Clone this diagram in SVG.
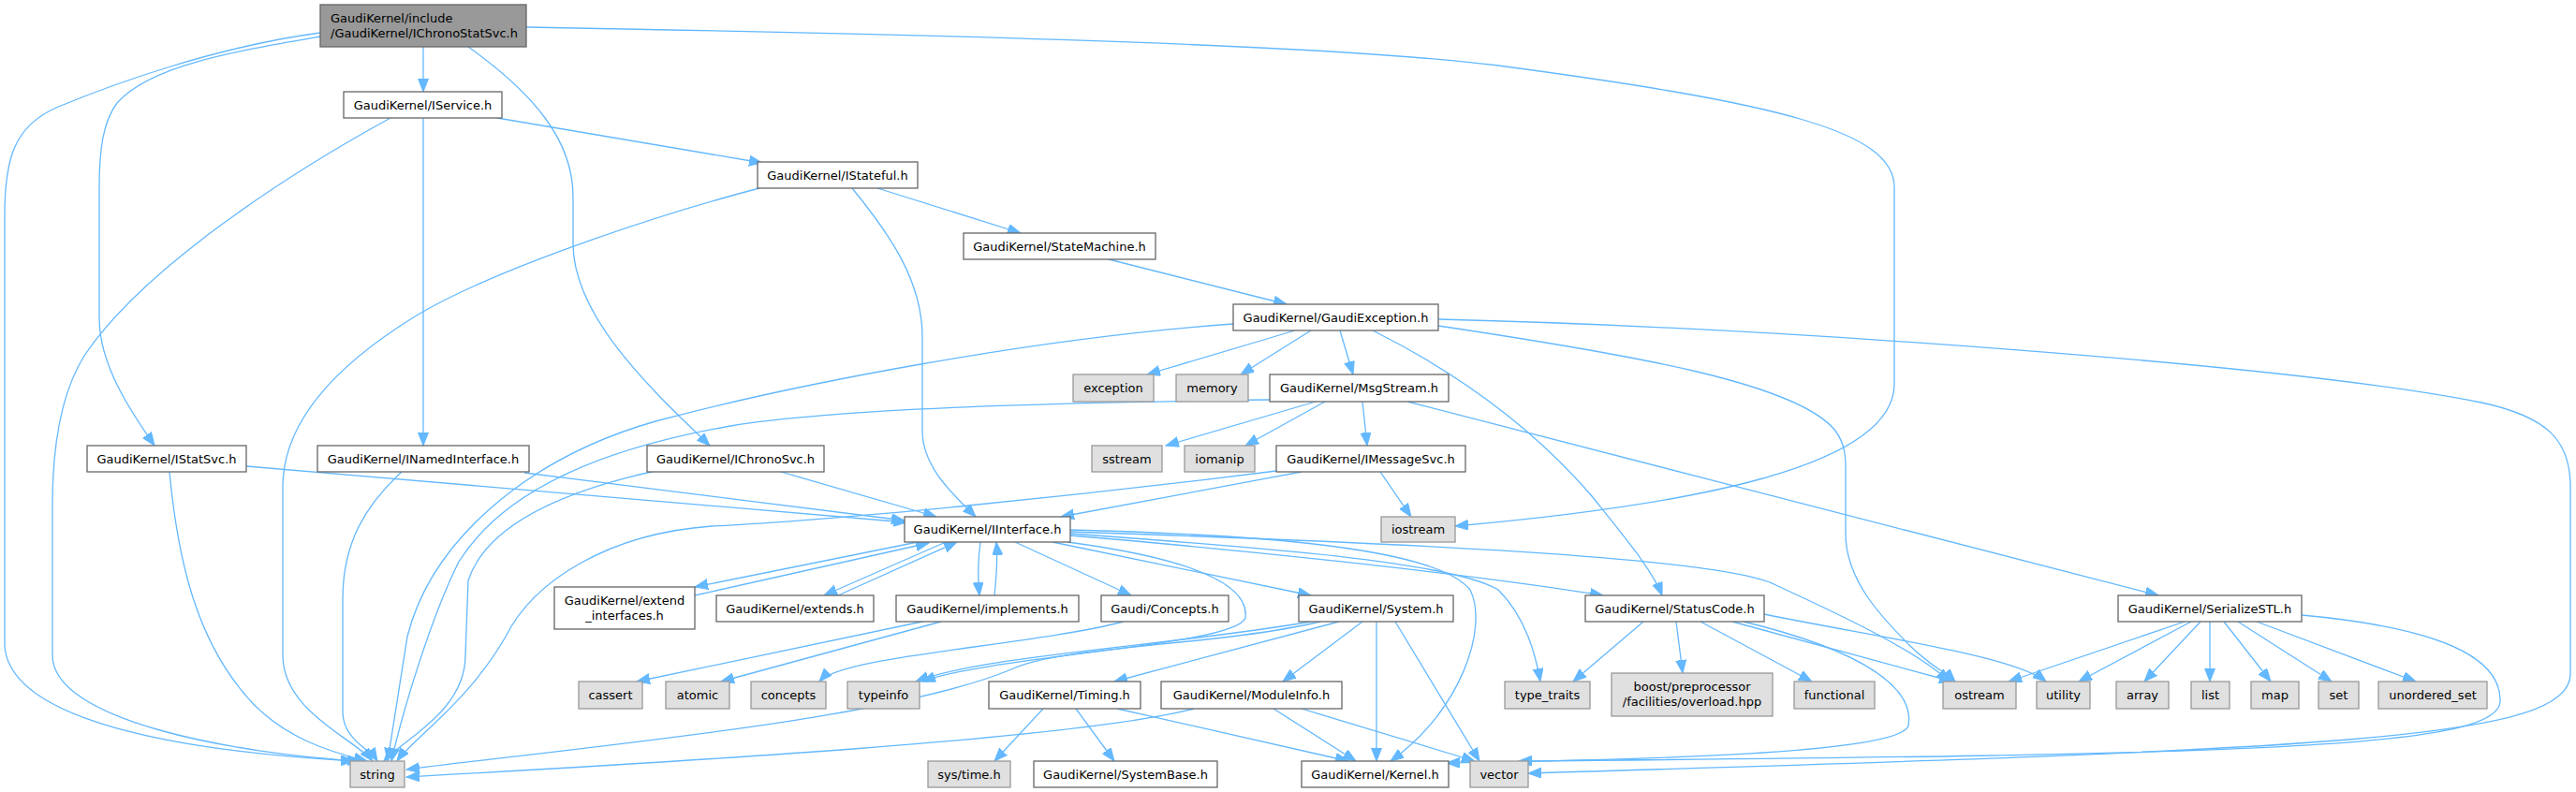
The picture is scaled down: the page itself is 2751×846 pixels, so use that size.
<svg xmlns="http://www.w3.org/2000/svg" width="2751" height="846" viewBox="0 0 2751 846">
<defs>
<marker id="a" markerUnits="userSpaceOnUse" markerWidth="15" markerHeight="12" refX="14" refY="5.5" orient="auto"><path d="M0,0 L14,5.5 L0,11 z" fill="#63b8ff" stroke="#63b8ff" stroke-width="1"/></marker>
<style>
.n rect{fill:#fff;stroke:#666;stroke-width:1.3}
.g rect{fill:#e0e0e0;stroke:#999;stroke-width:1.3}
.r rect{fill:#999;stroke:#666;stroke-width:1.3}
text{font-family:"DejaVu Sans",sans-serif;font-size:13px;text-anchor:middle;fill:#000}
.r text{text-anchor:start}
#edges path{fill:none;stroke:#63b8ff;stroke-width:1.3;marker-end:url(#a)}
</style>
</defs>
<rect width="2751" height="846" fill="#fff"/>
<g id="edges">
<path d="M452,50 L452,98"/>
<path d="M342,35 C230,50 120,90 60,115 C15,135 5,170 5,230 L5,690 C10,760 150,800 378,813"/>
<path d="M342,39 C250,55 160,70 125,110 C110,130 106,160 106,200 L106,340 C106,390 140,440 165,476"/>
<path d="M500,50 C570,100 612,150 612,210 L612,260 C612,340 700,420 758,476"/>
<path d="M562,29 C900,35 1400,45 1600,70 C1900,110 2023,140 2023,200 L2023,410 C2023,500 1800,540 1554,562"/>
<path d="M531,126 L814,174"/>
<path d="M452,126 L452,476"/>
<path d="M417,126 C300,190 150,290 90,380 C65,420 56,480 56,540 L56,700 C56,770 250,805 385,813"/>
<path d="M937,201 L1090,249"/>
<path d="M910,201 C950,250 985,300 985,360 L985,460 C985,500 1020,530 1042,552"/>
<path d="M811,201 C700,230 520,290 440,340 C360,390 302,450 302,520 L302,700 C302,760 380,790 398,813"/>
<path d="M1184,277 L1374,325"/>
<path d="M1383,353 L1225,400"/>
<path d="M1400,353 L1325,400"/>
<path d="M1431,353 L1445,400"/>
<path d="M1317,346 C1100,362 850,410 700,450 C560,490 460,580 435,680 L414,813"/>
<path d="M1466,353 C1560,400 1640,460 1700,530 C1740,580 1765,610 1775,636"/>
<path d="M1536,348 C1750,380 1920,410 1960,460 C1971,475 1971,490 1971,500 L1971,570 C1971,620 2010,660 2040,690 C2060,710 2080,720 2088,728"/>
<path d="M1536,341 C1900,350 2450,390 2650,430 C2720,445 2745,470 2745,520 L2745,720 C2745,790 2500,800 1632,826"/>
<path d="M1405,429 L1245,476"/>
<path d="M1415,429 L1330,476"/>
<path d="M1455,429 L1460,476"/>
<path d="M1503,429 L2305,636"/>
<path d="M1356,427 C1150,430 900,435 780,455 C650,478 540,520 490,600 C460,660 430,760 418,813"/>
<path d="M1390,504 L1133,552"/>
<path d="M1474,504 L1507,552"/>
<path d="M1363,503 C1150,530 900,555 760,562 C650,570 570,620 540,680 C500,750 440,790 424,813"/>
<path d="M263,498 L968,558"/>
<path d="M181,504 C190,600 210,680 260,740 C300,790 360,805 392,813"/>
<path d="M560,505 L966,556"/>
<path d="M429,504 C390,540 366,580 366,640 L366,760 C366,790 395,800 403,813"/>
<path d="M834,504 L1000,552"/>
<path d="M700,503 C600,525 520,560 500,620 L497,700 C497,760 430,790 410,813"/>
<path d="M980,579 L742,627"/>
<path d="M742,636 L992,580"/>
<path d="M1010,579 L880,636"/>
<path d="M895,636 L1022,579"/>
<path d="M1047,579 C1044,600 1044,615 1046,636"/>
<path d="M1062,636 C1064,615 1066,600 1064,579"/>
<path d="M1084,579 L1208,636"/>
<path d="M1124,579 L1400,636"/>
<path d="M1143,572 C1300,585 1550,610 1712,636"/>
<path d="M1143,570 C1350,585 1550,600 1600,630 C1630,660 1640,700 1645,728"/>
<path d="M1143,566 C1300,570 1530,580 1570,630 C1590,670 1560,760 1485,813"/>
<path d="M1143,568 C1500,580 1820,595 1890,622 C1950,650 2040,690 2082,728"/>
<path d="M1140,579 C1260,595 1335,620 1330,660 C1320,690 1060,700 985,728"/>
<path d="M1400,664 C1250,690 1050,700 978,728"/>
<path d="M1410,664 C1300,690 1130,690 1080,715 C950,770 600,800 434,822"/>
<path d="M1430,664 L1190,728"/>
<path d="M1455,664 L1370,728"/>
<path d="M1470,664 L1470,813"/>
<path d="M1490,664 L1580,813"/>
<path d="M1114,757 L1062,813"/>
<path d="M1149,757 L1190,813"/>
<path d="M1193,757 L1440,813"/>
<path d="M1275,757 C1150,790 700,815 434,830"/>
<path d="M1360,757 L1448,813"/>
<path d="M1390,757 L1575,813"/>
<path d="M985,664 L680,728"/>
<path d="M1005,664 L770,728"/>
<path d="M1200,664 C1100,690 900,700 875,728"/>
<path d="M1755,664 L1680,728"/>
<path d="M1790,664 L1797,719"/>
<path d="M1816,664 L1935,728"/>
<path d="M1850,664 L2085,728"/>
<path d="M1884,656 C2000,680 2150,700 2185,728"/>
<path d="M1862,664 C1990,695 2045,735 2038,775 C2030,808 1700,812 1545,815"/>
<path d="M2333,664 L2145,728"/>
<path d="M2340,664 L2220,728"/>
<path d="M2350,664 L2290,728"/>
<path d="M2360,664 L2360,728"/>
<path d="M2375,664 L2425,728"/>
<path d="M2390,664 L2490,728"/>
<path d="M2410,664 L2580,728"/>
<path d="M2458,657 C2600,670 2672,700 2670,750 C2665,800 2400,806 1622,813"/>
</g>
<g id="root" class="r"><rect x="342" y="5" width="220" height="45"/><text x="353" y="23.5">GaudiKernel/include</text><text x="353" y="39.5">/GaudiKernel/IChronoStatSvc.h</text></g>
<g id="IService" class="n"><rect x="367" y="98" width="169" height="28"/><text x="451.5" y="116.5">GaudiKernel/IService.h</text></g>
<g id="IStateful" class="n"><rect x="809" y="173" width="171" height="28"/><text x="894.5" y="191.5">GaudiKernel/IStateful.h</text></g>
<g id="StateMachine" class="n"><rect x="1029" y="249" width="205" height="28"/><text x="1131.5" y="267.5">GaudiKernel/StateMachine.h</text></g>
<g id="GaudiException" class="n"><rect x="1317" y="325" width="219" height="28"/><text x="1426.5" y="343.5">GaudiKernel/GaudiException.h</text></g>
<g id="exception" class="g"><rect x="1146" y="400" width="86" height="29"/><text x="1189" y="419">exception</text></g>
<g id="memory" class="g"><rect x="1256" y="400" width="77" height="29"/><text x="1294.5" y="419">memory</text></g>
<g id="MsgStream" class="n"><rect x="1356" y="400" width="191" height="29"/><text x="1451.5" y="419">GaudiKernel/MsgStream.h</text></g>
<g id="IStatSvc" class="n"><rect x="93" y="476" width="170" height="28"/><text x="178" y="494.5">GaudiKernel/IStatSvc.h</text></g>
<g id="INamedInterface" class="n"><rect x="339" y="476" width="226" height="28"/><text x="452" y="494.5">GaudiKernel/INamedInterface.h</text></g>
<g id="IChronoSvc" class="n"><rect x="691" y="476" width="189" height="28"/><text x="785.5" y="494.5">GaudiKernel/IChronoSvc.h</text></g>
<g id="sstream" class="g"><rect x="1166" y="476" width="75" height="28"/><text x="1203.5" y="494.5">sstream</text></g>
<g id="iomanip" class="g"><rect x="1265" y="476" width="75" height="28"/><text x="1302.5" y="494.5">iomanip</text></g>
<g id="IMessageSvc" class="n"><rect x="1363" y="476" width="202" height="28"/><text x="1464" y="494.5">GaudiKernel/IMessageSvc.h</text></g>
<g id="IInterface" class="n"><rect x="966" y="552" width="177" height="27"/><text x="1054.5" y="570">GaudiKernel/IInterface.h</text></g>
<g id="iostream" class="g"><rect x="1475" y="552" width="79" height="27"/><text x="1514.5" y="570">iostream</text></g>
<g id="extend_interfaces" class="n"><rect x="592" y="627" width="150" height="45"/><text x="667" y="645.5">GaudiKernel/extend</text><text x="667" y="661.5">_interfaces.h</text></g>
<g id="extends" class="n"><rect x="765" y="636" width="168" height="28"/><text x="849" y="654.5">GaudiKernel/extends.h</text></g>
<g id="implements" class="n"><rect x="957" y="636" width="195" height="28"/><text x="1054.5" y="654.5">GaudiKernel/implements.h</text></g>
<g id="Concepts" class="n"><rect x="1176" y="636" width="136" height="28"/><text x="1244" y="654.5">Gaudi/Concepts.h</text></g>
<g id="System" class="n"><rect x="1387" y="636" width="165" height="28"/><text x="1469.5" y="654.5">GaudiKernel/System.h</text></g>
<g id="StatusCode" class="n"><rect x="1693" y="636" width="191" height="28"/><text x="1788.5" y="654.5">GaudiKernel/StatusCode.h</text></g>
<g id="SerializeSTL" class="n"><rect x="2262" y="636" width="196" height="28"/><text x="2360" y="654.5">GaudiKernel/SerializeSTL.h</text></g>
<g id="cassert" class="g"><rect x="618" y="728" width="68" height="29"/><text x="652" y="747">cassert</text></g>
<g id="atomic" class="g"><rect x="711" y="728" width="68" height="29"/><text x="745" y="747">atomic</text></g>
<g id="concepts" class="g"><rect x="802" y="728" width="80" height="29"/><text x="842" y="747">concepts</text></g>
<g id="typeinfo" class="g"><rect x="905" y="728" width="77" height="29"/><text x="943.5" y="747">typeinfo</text></g>
<g id="Timing" class="n"><rect x="1056" y="728" width="162" height="29"/><text x="1137" y="747">GaudiKernel/Timing.h</text></g>
<g id="ModuleInfo" class="n"><rect x="1240" y="728" width="193" height="29"/><text x="1336.5" y="747">GaudiKernel/ModuleInfo.h</text></g>
<g id="type_traits" class="g"><rect x="1607" y="728" width="91" height="29"/><text x="1652.5" y="747">type_traits</text></g>
<g id="boost" class="g"><rect x="1721" y="719" width="172" height="46"/><text x="1807" y="738">boost/preprocessor</text><text x="1807" y="754">/facilities/overload.hpp</text></g>
<g id="functional" class="g"><rect x="1916" y="728" width="86" height="29"/><text x="1959" y="747">functional</text></g>
<g id="ostream" class="g"><rect x="2075" y="728" width="78" height="29"/><text x="2114" y="747">ostream</text></g>
<g id="utility" class="g"><rect x="2175" y="728" width="57" height="29"/><text x="2203.5" y="747">utility</text></g>
<g id="array" class="g"><rect x="2260" y="728" width="56" height="29"/><text x="2288" y="747">array</text></g>
<g id="list" class="g"><rect x="2340" y="728" width="41" height="29"/><text x="2360.5" y="747">list</text></g>
<g id="map" class="g"><rect x="2404" y="728" width="51" height="29"/><text x="2429.5" y="747">map</text></g>
<g id="set" class="g"><rect x="2476" y="728" width="43" height="29"/><text x="2497.5" y="747">set</text></g>
<g id="unordered_set" class="g"><rect x="2540" y="728" width="116" height="29"/><text x="2598" y="747">unordered_set</text></g>
<g id="string" class="g"><rect x="374" y="813" width="58" height="28"/><text x="403" y="831.5">string</text></g>
<g id="systime" class="g"><rect x="991" y="813" width="88" height="28"/><text x="1035" y="831.5">sys/time.h</text></g>
<g id="SystemBase" class="n"><rect x="1104" y="813" width="196" height="28"/><text x="1202" y="831.5">GaudiKernel/SystemBase.h</text></g>
<g id="Kernel" class="n"><rect x="1390" y="813" width="157" height="28"/><text x="1468.5" y="831.5">GaudiKernel/Kernel.h</text></g>
<g id="vector" class="g"><rect x="1570" y="813" width="62" height="28"/><text x="1601" y="831.5">vector</text></g>
</svg>
